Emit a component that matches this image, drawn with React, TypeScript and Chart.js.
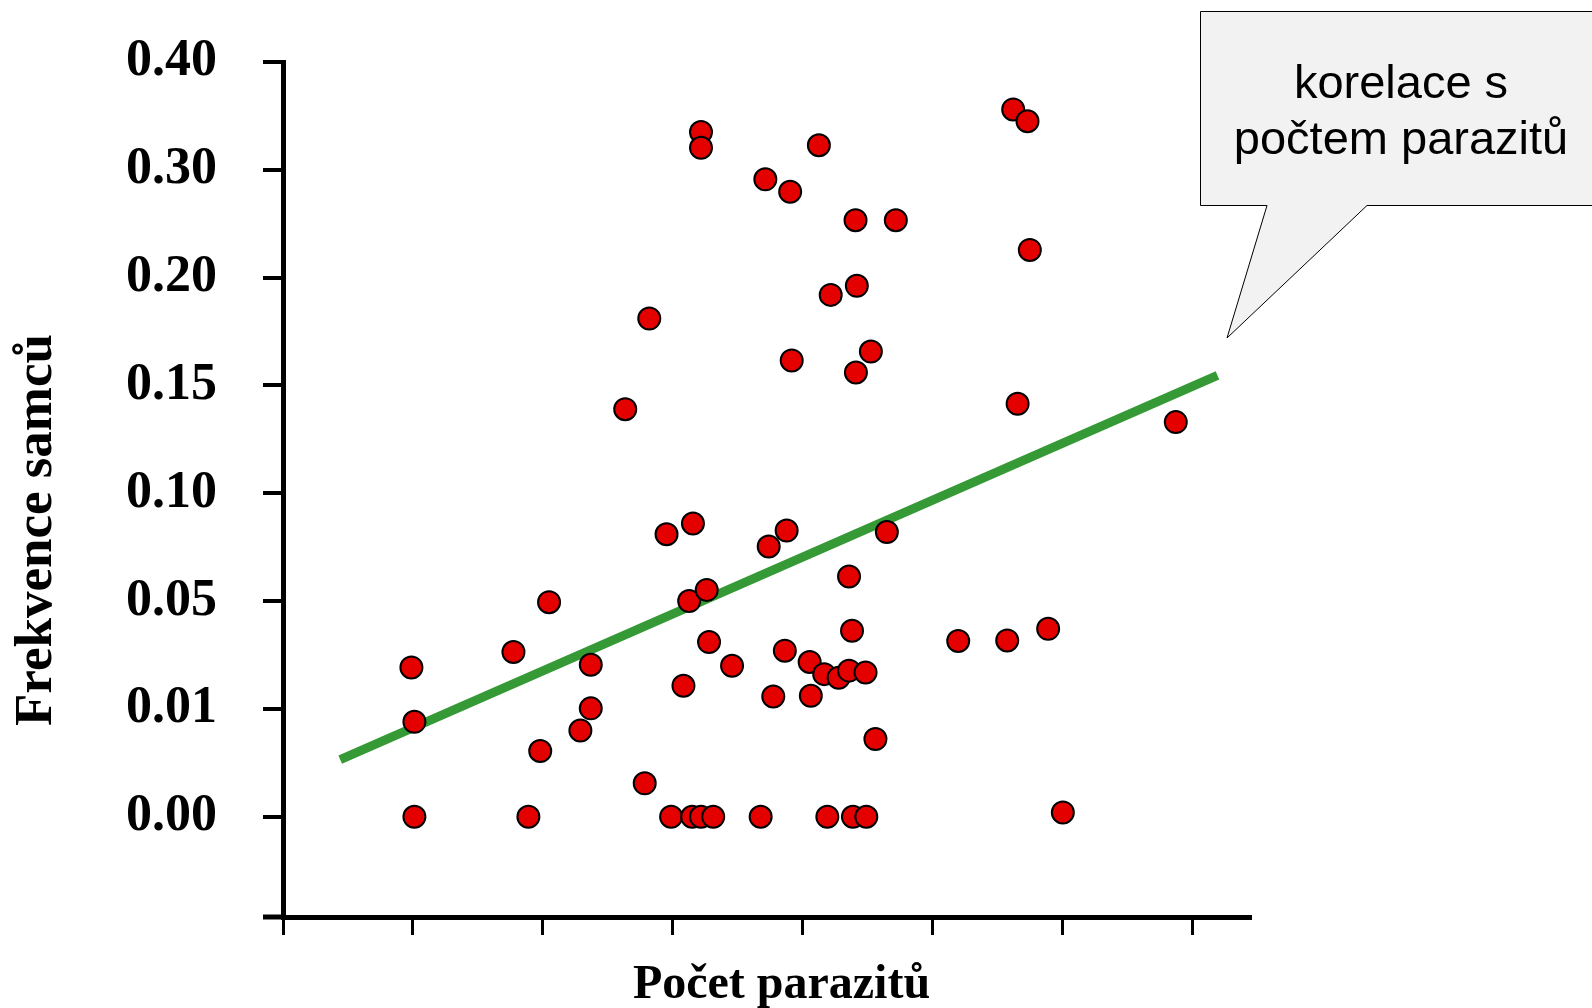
import React, { useEffect, useRef } from 'react';
import { Chart, registerables } from 'chart.js';

Chart.register(...registerables);

// ---- data ----
const yTickValues = [0, 0.01, 0.05, 0.1, 0.15, 0.2, 0.3, 0.4];
const yTickLabels = ['0.00', '0.01', '0.05', '0.10', '0.15', '0.20', '0.30', '0.40'];
const xTickValues = [0, 1, 2, 3, 4, 5, 6, 7];

const parasiteCounts = [
  1.011, 1.888, 2.986, 3.148, 3.216, 3.31, 3.675, 4.188, 4.385, 4.488, 6.0,
  0.988, 1.011, 1.773, 2.047, 2.368, 2.368, 2.288, 1.979, 2.783, 2.633,
  2.818, 2.951, 3.154, 3.125, 3.26, 3.278, 3.455, 3.081, 3.737, 3.875,
  3.772, 3.861, 4.052, 4.061, 4.164, 4.275, 4.355, 4.482, 4.355, 4.378,
  4.558, 4.646, 5.195, 5.572, 5.887, 6.869, 5.652, 5.746, 5.618, 5.728,
  3.216, 3.216, 4.123, 3.711, 3.902, 4.405, 4.715, 4.415, 4.214, 3.914,
  4.523, 4.408,
];
const maleFrequencies = [
  0, 0, 0, 0, 0, 0, 0, 0, 0, 0, 0.0004,
  0.0254, 0.0088, 0.0311, 0.0496, 0.0264, 0.0102, 0.008, 0.0061, 0.0031, 0.139,
  0.181, 0.081, 0.086, 0.05, 0.0552, 0.0348, 0.026, 0.0186, 0.0753, 0.0827,
  0.0146, 0.0316, 0.0274, 0.0149, 0.0229, 0.0216, 0.0242, 0.0235, 0.0614, 0.039,
  0.0072, 0.082, 0.0352, 0.0354, 0.0397, 0.133, 0.1415, 0.2257, 0.356, 0.345,
  0.335, 0.3205, 0.3228, 0.2912, 0.2797, 0.2532, 0.2532, 0.1962, 0.192, 0.1616,
  0.1657, 0.156,
];

const trendX = [0.44, 7.19];
const trendY = [0.0053, 0.1547];

const xTitle = 'Počet parazitů';
const yTitle = 'Frekvence samců';
const calloutLines = ['korelace s', 'počtem parazitů'];

// map a frequency onto the (evenly spaced) tick positions of the axis
function toAxis(f: number): number {
  for (let i = 0; i < yTickValues.length - 1; i++) {
    const a = yTickValues[i];
    const b = yTickValues[i + 1];
    if (f <= b) return i + (f - a) / (b - a);
  }
  return yTickValues.length - 1;
}

const SERIF = '"Liberation Serif", "Times New Roman", Times, serif';
const SANS = '"Liberation Sans", Arial, Helvetica, sans-serif';

const decorPlugin = {
  id: 'decor',
  afterDraw(chart: any) {
    const ctx: CanvasRenderingContext2D = chart.ctx;
    const { left, right } = chart.chartArea;
    ctx.save();

    // y axis title
    ctx.fillStyle = '#000';
    ctx.font = `bold 53px ${SERIF}`;
    ctx.textAlign = 'center';
    ctx.textBaseline = 'alphabetic';
    ctx.save();
    ctx.translate(51, 530);
    ctx.rotate(-Math.PI / 2);
    ctx.fillText(yTitle, 0, 0);
    ctx.restore();

    // x axis title
    ctx.font = `bold 48px ${SERIF}`;
    ctx.fillText(xTitle, (left + right) / 2 + 15, 998);

    // callout
    ctx.beginPath();
    ctx.moveTo(1200.5, 11.5);
    ctx.lineTo(1600, 11.5);
    ctx.lineTo(1600, 205.5);
    ctx.lineTo(1367, 205.5);
    ctx.lineTo(1227, 338);
    ctx.lineTo(1267, 205.5);
    ctx.lineTo(1200.5, 205.5);
    ctx.closePath();
    ctx.fillStyle = '#f2f2f2';
    ctx.fill();
    ctx.lineWidth = 1;
    ctx.strokeStyle = '#000';
    ctx.stroke();

    ctx.fillStyle = '#000';
    ctx.font = `47px ${SANS}`;
    ctx.textAlign = 'center';
    ctx.fillText(calloutLines[0], 1401, 98);
    ctx.fillText(calloutLines[1], 1401, 154);

    ctx.restore();
  },
};

export default function App() {
  const canvasRef = useRef<HTMLCanvasElement | null>(null);

  useEffect(() => {
    const canvas = canvasRef.current;
    if (!canvas) return;

    const points = parasiteCounts.map((x, i) => ({ x, y: toAxis(maleFrequencies[i]) }));
    const trend = trendX.map((x, i) => ({ x, y: toAxis(trendY[i]) }));

    const yMin = -0.93;

    const chart = new Chart(canvas, {
      type: 'scatter',
      data: {
        datasets: [
          {
            label: 'Frekvence samců',
            data: points,
            backgroundColor: '#e50000',
            borderColor: '#000000',
            borderWidth: 2,
            pointRadius: 11,
            pointHoverRadius: 11,
            order: 0,
          },
          {
            type: 'line',
            label: 'korelace',
            data: trend,
            borderColor: '#359a35',
            borderWidth: 9,
            borderCapStyle: 'butt',
            pointRadius: 0,
            showLine: true,
            fill: false,
            order: 1,
          } as any,
        ],
      },
      options: {
        responsive: false,
        animation: false,
        devicePixelRatio: 1,
        layout: { padding: { left: 0, top: 62, right: 342, bottom: 0 } },
        plugins: {
          legend: { display: false },
          tooltip: { enabled: false },
          title: { display: false },
        },
        scales: {
          x: {
            type: 'linear',
            min: 0,
            max: 7.44,
            afterBuildTicks: (scale: any) => {
              scale.ticks = xTickValues.map((v) => ({ value: v }));
            },
            afterFit: (scale: any) => {
              scale.height = 91;
              scale.paddingLeft = 0;
              scale.paddingRight = 0;
            },
            ticks: {
              callback: () => '',
              font: { size: 10 },
              padding: 0,
            },
            grid: {
              display: true,
              drawOnChartArea: false,
              drawTicks: true,
              tickLength: 18,
              tickWidth: 3,
              tickColor: '#000',
              color: '#000',
              lineWidth: 3,
            },
            border: { display: true, color: '#000', width: 5 },
            title: { display: false },
          },
          y: {
            type: 'linear',
            min: yMin,
            max: yTickValues.length - 1,
            afterBuildTicks: (scale: any) => {
              scale.ticks = [{ value: yMin }].concat(yTickLabels.map((_, i) => ({ value: i })));
            },
            afterFit: (scale: any) => {
              scale.width = 283;
              scale.paddingTop = 0;
              scale.paddingBottom = 0;
            },
            ticks: {
              callback: (value: any) => {
                const v = Number(value);
                if (Number.isInteger(v) && v >= 0 && v < yTickLabels.length) return yTickLabels[v];
                return '';
              },
              color: '#000',
              font: { family: SERIF, size: 52, weight: 'bold' },
              padding: 46,
            },
            grid: {
              display: true,
              drawOnChartArea: false,
              drawTicks: true,
              tickLength: 20,
              tickColor: '#000',
              color: '#000',
              tickWidth: (c: any) => (c.index === 0 ? 5 : 4),
              lineWidth: 4,
            },
            border: { display: true, color: '#000', width: 5 },
            title: { display: false },
          },
        },
      },
      plugins: [decorPlugin],
    } as any);

    return () => chart.destroy();
  }, []);

  return (
    <div
      style={{
        position: 'fixed',
        left: 0,
        top: 0,
        width: 1592,
        height: 1008,
        background: '#ffffff',
      }}
    >
      <canvas ref={canvasRef} width={1592} height={1008} style={{ display: 'block', width: 1592, height: 1008 }} />
    </div>
  );
}
